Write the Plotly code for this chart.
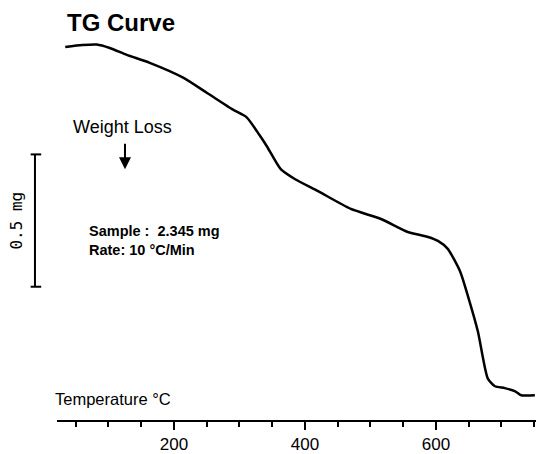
import plotly.graph_objects as go

# TG curve: sample weight (mg) vs temperature (°C)
temperature_c = [34, 60, 82, 102, 128, 163, 214, 250, 290, 311, 330, 342, 363,
                 385, 420, 470, 516, 557, 588, 603, 618, 637, 649, 664, 679,
                 690, 705, 721, 730, 751]
weight_mg = [2.341, 2.348, 2.350, 2.337, 2.311, 2.281, 2.225, 2.168, 2.104,
             2.075, 2.010, 1.965, 1.879, 1.841, 1.796, 1.729, 1.691, 1.642,
             1.623, 1.608, 1.578, 1.492, 1.398, 1.266, 1.089, 1.059, 1.052,
             1.040, 1.025, 1.025]

x_range = [21.4, 752.7]
y_range = [0.9315, 2.405]

# 0.5 mg scale bar, in weight units
scale_top_mg = 1.935
scale_len_mg = 0.5

fig = go.Figure()
fig.add_trace(go.Scatter(
    x=temperature_c, y=weight_mg, mode="lines",
    line=dict(color="black", width=2.5, shape="spline", smoothing=0.6),
    hoverinfo="skip", showlegend=False,
))

# scale bar with end caps
bar_x = -0.046
cap_l, cap_r = -0.055, -0.033
fig.add_shape(type="line", xref="paper", yref="y", x0=bar_x, x1=bar_x,
              y0=scale_top_mg, y1=scale_top_mg - scale_len_mg,
              line=dict(color="black", width=2))
for yv in (scale_top_mg, scale_top_mg - scale_len_mg):
    fig.add_shape(type="line", xref="paper", yref="y", x0=cap_l, x1=cap_r,
                  y0=yv, y1=yv, line=dict(color="black", width=2))

fig.add_annotation(xref="paper", yref="y", x=-0.0835, xanchor="center",
                   y=scale_top_mg - scale_len_mg / 2, text="0.5 mg",
                   textangle=-90, showarrow=False,
                   font=dict(family="DejaVu Sans Mono", size=16, color="black"))

fig.add_annotation(xref="paper", yref="paper", x=0.0167, y=1.02,
                   xanchor="left", yanchor="middle", text="<b>TG Curve</b>",
                   showarrow=False,
                   font=dict(family="Liberation Sans", size=24, color="black"))

fig.add_annotation(x=121.4, y=2.040, text="Weight Loss", showarrow=False,
                   xanchor="center", yanchor="middle",
                   font=dict(family="Liberation Sans", size=18, color="black"))

fig.add_annotation(x=125.2, y=1.879, ax=0, ay=-27, text="", showarrow=True,
                   arrowhead=2, arrowsize=1.2, arrowwidth=2, arrowcolor="black")

fig.add_annotation(x=67, y=1.608, xanchor="left", yanchor="middle",
                   align="left", showarrow=False,
                   text="<b>Sample :  2.345 mg<br>Rate: 10 °C/Min</b>",
                   font=dict(family="Liberation Sans", size=14.5, color="black"))

fig.add_annotation(xref="paper", x=-0.008, y=1.010, xanchor="left",
                   yanchor="middle", text="Temperature °C", showarrow=False,
                   font=dict(family="Liberation Sans", size=16.5, color="black"))

fig.update_layout(
    width=536, height=454,
    margin=dict(l=57, r=0, t=30, b=32),
    paper_bgcolor="white", plot_bgcolor="white",
    xaxis=dict(range=x_range, showgrid=False, zeroline=False,
               showline=True, linecolor="black", linewidth=2,
               ticks="outside", ticklen=8, tickwidth=2, tickcolor="black",
               tick0=0, dtick=200,
               minor=dict(ticks="outside", ticklen=5, tickwidth=2,
                          tickcolor="black", tick0=0, dtick=50, showgrid=False),
               tickfont=dict(family="Liberation Sans", size=17, color="black")),
    yaxis=dict(range=y_range, visible=False),
)

fig.write_html("out.html")
